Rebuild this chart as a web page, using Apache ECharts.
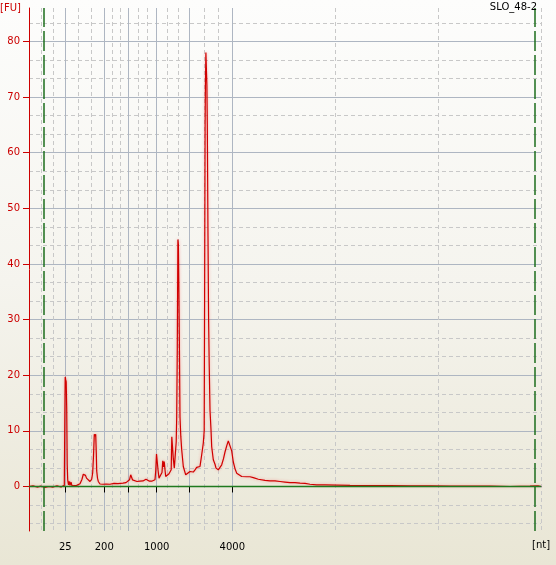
<!DOCTYPE html>
<html>
<head>
<meta charset="utf-8">
<script src="https://cdn.jsdelivr.net/npm/echarts@6/dist/echarts.min.js"></script>
<style>
html,body{margin:0;padding:0;}
#chart{width:556px;height:565px;}
</style>
</head>
<body>
<div id="chart"></div>
<script>
// ---- data (migration time in s, fluorescence in FU) ----
const sampleName = 'SLO_48-2';
const yUnit = '[FU]';
const xUnit = '[nt]';
const timeSec = [19.00,19.40,19.80,20.20,20.60,21.00,21.40,21.80,22.20,22.40,22.53,22.58,22.62,22.67,22.72,22.77,22.82,22.87,22.95,23.02,23.10,23.20,23.30,23.50,23.77,23.90,24.10,24.30,24.43,24.53,24.65,24.75,24.93,25.10,25.27,25.37,25.45,25.53,25.60,25.67,25.73,25.77,25.85,25.93,26.10,26.40,26.70,27.10,27.50,27.90,28.10,28.40,28.70,28.90,29.05,29.17,29.25,29.35,29.53,29.80,30.10,30.40,30.60,30.70,30.85,31.05,31.27,31.40,31.60,31.68,31.75,31.82,31.90,32.00,32.15,32.30,32.38,32.45,32.52,32.60,32.67,32.80,33.00,33.15,33.22,33.28,33.36,33.43,33.53,33.63,33.72,33.77,33.83,33.89,33.94,33.99,34.03,34.10,34.18,34.27,34.43,34.67,34.85,35.10,35.27,35.43,35.60,35.77,35.93,36.10,36.27,36.43,36.52,36.57,36.61,36.64,36.69,36.74,36.79,36.83,36.90,36.96,37.02,37.10,37.20,37.27,37.43,37.60,37.70,37.93,38.05,38.27,38.45,38.60,38.77,38.93,39.05,39.13,39.27,39.43,39.60,39.77,39.93,40.27,40.77,41.10,41.43,41.60,41.93,42.10,42.60,43.10,43.60,44.10,44.60,45.10,45.60,46.10,46.60,47.10,47.77,48.60,49.77,51.10,53.10,55.10,57.10,59.10,61.10,63.10,65.10,67.10,69.10,69.90,70.10,70.20];
const fu = [0.0,0.1,-0.1,0.05,-0.15,0.0,-0.1,0.1,-0.1,0.0,0.2,12,19.7,19.2,18.8,14,4,1.2,0.3,0.9,0.2,0.8,0.1,0.0,0.2,0.4,0.5,1.3,2.2,2.5,2.0,1.5,1.2,0.9,1.3,2.5,5.5,9.4,9.0,9.4,6,2.8,1.5,0.9,0.45,0.4,0.45,0.4,0.55,0.5,0.65,0.6,0.7,0.75,1.2,2.1,1.8,1.2,0.9,0.9,0.95,1.0,1.2,1.3,1.15,0.95,0.95,1.1,1.2,3,5.85,5.5,3.0,1.5,1.7,2.5,4.6,3.5,4.5,3,1.8,2.0,2.3,2.2,3,8.95,8.95,5,3.3,3.6,8,12.5,25,44.4,43.5,35,27.6,12.5,9,6.6,3.6,2.1,1.75,2.7,2.4,2.6,3.0,3.45,3.4,3.6,5.7,7.8,10,40,65,71.9,78.0,78.0,72,65.2,45,30,22,13.75,10.2,7.15,4.8,4.0,3.3,3.0,3.1,3.9,5.0,6.2,7.3,8.2,8.25,8.0,6.4,4.4,3.2,2.4,2.1,1.8,1.75,1.75,1.6,1.5,1.3,1.2,1.1,1.0,1.0,0.9,0.8,0.7,0.7,0.6,0.55,0.4,0.3,0.3,0.25,0.2,0.15,0.15,0.1,0.12,0.08,0.05,0.05,0.0,0.05,0.1,-0.2,0.0];
// ladder (size standard) positions
const ladderNt = [25, 200, 500, 1000, 2000, 4000];
const ladderTime = [22.63, 26.53, 28.97, 31.77, 35.07, 39.33];
const labelledNt = [25, 200, 1000, 4000];
// alignment markers (lower / upper)
const markerTime = [20.43, 69.53];
// axis ranges and FU ticks
const xMin = 19, xMax = 70.2;
const yMin = -8, yMax = 86;
const yMajor = [0, 10, 20, 30, 40, 50, 60, 70, 80];

// ---- derived grid helpers ----
const bounds = [xMin].concat(ladderTime, [xMax]);
const xMinor = [];
for (let i = 0; i < bounds.length - 1; i++) {
  const a = bounds[i], b = bounds[i + 1];
  xMinor.push(a + (b - a) / 3, a + 2 * (b - a) / 3);
}
xMinor.push(xMax);
const yMinor = [];
for (let v = -20; v <= 90; v += 10) {
  [v + 10 / 3, v + 20 / 3].forEach(m => { if (m > yMin && m < yMax) yMinor.push(m); });
}
const labelTimes = labelledNt.map(n => ladderTime[ladderNt.indexOf(n)]);

const FONT = 'DejaVu Sans';
const chart = echarts.init(document.getElementById('chart'), null, {renderer: 'canvas'});
chart.setOption({
  animation: false,
  backgroundColor: new echarts.graphic.LinearGradient(0, 0, 0, 1, [
    {offset: 0, color: '#fdfdfc'},
    {offset: 0.5, color: '#f5f4ee'},
    {offset: 1, color: '#e9e6d5'}
  ]),
  title: [
    {text: sampleName, right: 19, top: 2, padding: 0, textStyle: {fontFamily: FONT, fontSize: 10, fontWeight: 'normal', color: '#000'}},
    {text: yUnit, left: 0, top: 3, padding: 0, textStyle: {fontFamily: FONT, fontSize: 10, fontWeight: 'normal', color: '#cc0000'}},
    {text: xUnit, left: 532, top: 540, padding: 0, textStyle: {fontFamily: FONT, fontSize: 10, fontWeight: 'normal', color: '#000'}}
  ],
  grid: {left: 29, right: 15, top: 8, bottom: 34},
  xAxis: [{
    type: 'value', min: xMin, max: xMax, position: 'bottom',
    axisLine: {show: true, lineStyle: {color: '#000', width: 1}},
    axisTick: {show: true, length: 6, customValues: ladderTime, lineStyle: {color: '#000'}},
    axisLabel: {
      show: true, margin: 11, customValues: labelTimes,
      fontFamily: FONT, fontSize: 10, color: '#000',
      formatter: function (v) {
        for (let i = 0; i < ladderTime.length; i++) if (Math.abs(ladderTime[i] - v) < 1e-6) return String(ladderNt[i]);
        return '';
      }
    },
    splitLine: {show: true, lineStyle: {color: '#aeb6c2', width: 1}}
  }, {
    type: 'value', min: xMin, max: xMax, position: 'top',
    axisLine: {show: false},
    axisTick: {show: false, customValues: xMinor},
    axisLabel: {show: false},
    splitLine: {show: true, lineStyle: {color: '#c8c8c8', width: 1, type: [4, 3]}}
  }],
  yAxis: [{
    type: 'value', min: yMin, max: yMax, position: 'left',
    axisLine: {show: true, lineStyle: {color: '#cc0000', width: 1}},
    axisTick: {show: true, length: 6, customValues: yMajor, lineStyle: {color: '#cc0000'}},
    axisLabel: {show: true, margin: 9, customValues: yMajor, fontFamily: FONT, fontSize: 10, color: '#cc0000'},
    splitLine: {show: true, lineStyle: {color: '#aeb6c2', width: 1}}
  }, {
    type: 'value', min: yMin, max: yMax, position: 'right',
    axisLine: {show: false},
    axisTick: {show: false, customValues: yMinor},
    axisLabel: {show: false},
    splitLine: {show: true, lineStyle: {color: '#c8c8c8', width: 1, type: [4, 3]}}
  }],
  series: [{
    type: 'line', xAxisIndex: 0, yAxisIndex: 0, data: [], z: 1, silent: true,
    markLine: {
      silent: true, symbol: 'none', label: {show: false}, animation: false,
      data: [
        {yAxis: 0, lineStyle: {color: '#1f7a1f', width: 1.3, type: 'solid'}},
        {xAxis: markerTime[0], lineStyle: {color: '#1c6e1c', width: 1.5, type: [20, 4]}},
        {xAxis: markerTime[1], lineStyle: {color: '#1c6e1c', width: 1.5, type: [20, 4]}}
      ]
    }
  }, {
    type: 'line', xAxisIndex: 0, yAxisIndex: 0, z: 3,
    data: timeSec.map((t, i) => [t, fu[i]]),
    showSymbol: false, symbol: 'none',
    lineStyle: {color: '#d00000', width: 1.2, shadowColor: 'rgba(255,60,60,0.45)', shadowBlur: 3}
  }]
});
</script>
</body>
</html>
